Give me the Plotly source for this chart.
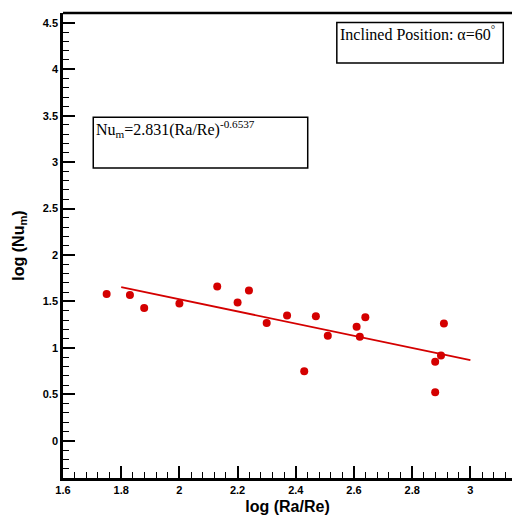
import plotly.graph_objects as go

# data
x_vals = [1.750, 1.830, 1.879, 2.000, 2.130, 2.200, 2.239, 2.300, 2.370, 2.429,
          2.469, 2.510, 2.609, 2.620, 2.639, 2.879, 2.879, 2.899, 2.909]
y_vals = [1.580, 1.569, 1.430, 1.479, 1.661, 1.490, 1.618, 1.269, 1.350, 0.750,
          1.340, 1.130, 1.229, 1.119, 1.329, 0.851, 0.522, 0.919, 1.262]
fit_x = [1.8, 3.0]
fit_y = [1.654, 0.870]

eq_text = "Nu<sub>m</sub>=2.831(Ra/Re)<sup>-0.6537</sup>"
pos_text = "Inclined Position: α=60<sup>°</sup>"

red = "#d40000"
fig = go.Figure()
fig.add_trace(go.Scatter(x=fit_x, y=fit_y, mode="lines",
                         line=dict(color=red, width=1.8), showlegend=False))
fig.add_trace(go.Scatter(x=x_vals, y=y_vals, mode="markers",
                         marker=dict(color=red, size=8), showlegend=False))

# boxes
fig.add_shape(type="rect", xref="x", yref="y", x0=1.704, x1=2.441, y0=2.937, y1=3.483,
              line=dict(color="black", width=1.5), fillcolor="white", layer="below")
fig.add_shape(type="rect", xref="x", yref="y", x0=2.541, x1=3.113, y0=4.066, y1=4.502,
              line=dict(color="black", width=1.5), fillcolor="white", layer="below")
fig.add_annotation(x=1.706, y=3.495, xref="x", yref="y", text=eq_text, showarrow=False,
                   xanchor="left", yanchor="top",
                   font=dict(family="Liberation Serif", size=16, color="black"))
fig.add_annotation(x=2.546, y=4.515, xref="x", yref="y", text=pos_text, showarrow=False,
                   xanchor="left", yanchor="top",
                   font=dict(family="Liberation Serif", size=16, color="black"))

tickfont = dict(family="Liberation Sans", size=11, color="black", weight="bold")
fig.update_layout(
    width=512, height=520,
    margin=dict(l=63, r=0, t=13, b=42),
    plot_bgcolor="white", paper_bgcolor="white",
    xaxis=dict(range=[1.6, 3.143], tick0=1.6, dtick=0.2, ticks="inside", ticklen=12,
               tickwidth=2, tickcolor="black", showline=True, linewidth=2.5,
               linecolor="black", mirror=False, showgrid=False, zeroline=False,
               tickfont=tickfont, tickformat="~g",
               minor=dict(dtick=0.04, ticks="inside", ticklen=6, tickwidth=1.2,
                          tickcolor="black", showgrid=False),
               title=dict(text="log (Ra/Re)", standoff=6,
                          font=dict(family="Liberation Sans", size=16, color="black",
                                    weight="bold"))),
    yaxis=dict(range=[-0.4, 4.605], tick0=0, dtick=0.5, ticks="inside", ticklen=12,
               tickwidth=2, tickcolor="black", showline=True, linewidth=2.5,
               linecolor="black", showgrid=False, zeroline=False,
               tickfont=tickfont, tickformat="~g",
               minor=dict(dtick=0.1, ticks="inside", ticklen=6, tickwidth=1.2,
                          tickcolor="black", showgrid=False),
               title=dict(text="log (Nu<sub>m</sub>)", standoff=15,
                          font=dict(family="Liberation Sans", size=16, color="black",
                                    weight="bold"))),
)
# top border line
fig.add_shape(type="line", xref="paper", yref="paper", x0=0, x1=1, y0=1, y1=1,
              line=dict(color="black", width=2.5))

fig.write_html("out.html")
